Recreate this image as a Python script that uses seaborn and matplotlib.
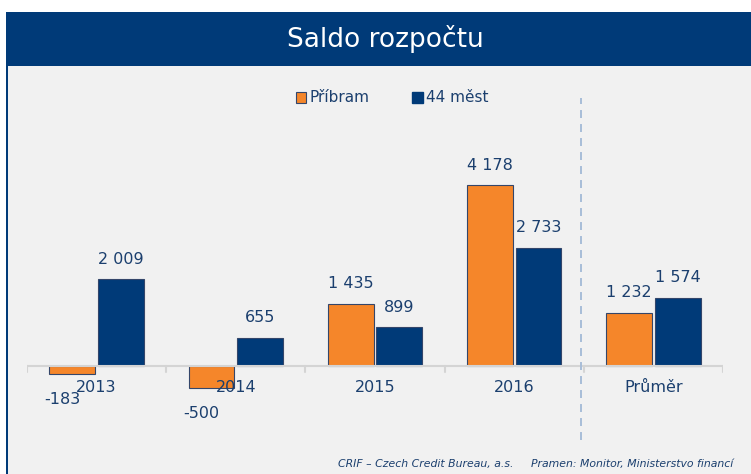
import pandas as pd
import matplotlib.pyplot as plt
import seaborn as sns
from matplotlib.patches import Rectangle, Patch

# data
categories = ["2013", "2014", "2015", "2016", "Průměr"]
pribram = [-183, -500, 1435, 4178, 1232]
mest44 = [2009, 655, 899, 2733, 1574]
series_names = ["Příbram", "44 měst"]

ORANGE = "#F5862A"
NAVY = "#003A78"
TEXT = "#1B3F6E"
BG = "#F1F1F1"

df = pd.DataFrame({
    "kategorie": categories * 2,
    "serie": [series_names[0]] * len(categories) + [series_names[1]] * len(categories),
    "hodnota": pribram + mest44,
})

sns.set_theme(style="white")
plt.rcParams["font.family"] = ["DejaVu Sans"]

fig = plt.figure(figsize=(7.51, 4.74), dpi=100)
fig.patch.set_facecolor("white")

# pozadí, levý okraj a hlavička (pod osami)
fig.patches.append(Rectangle((6 / 751, 0), 1, 462 / 474, transform=fig.transFigure,
                             facecolor=BG, edgecolor="none", zorder=-3))
fig.patches.append(Rectangle((6 / 751, 0), 2.2 / 751, 462 / 474, transform=fig.transFigure,
                             facecolor=NAVY, edgecolor="none", zorder=-2))
fig.patches.append(Rectangle((6 / 751, 408 / 474), 1, 54 / 474, transform=fig.transFigure,
                             facecolor=NAVY, edgecolor="none", zorder=-2))
fig.text(385 / 751, 435 / 474, "Saldo rozpočtu", color="white", fontsize=19,
         ha="center", va="center")

ax = fig.add_axes([27 / 751, 24 / 474, 696 / 751, 360 / 474])
ax.set_facecolor("none")

sns.barplot(data=df, x="kategorie", y="hodnota", hue="serie", order=categories,
            hue_order=series_names, palette=[ORANGE, NAVY], saturation=1,
            width=0.7, gap=0.06, edgecolor="#34466A", linewidth=0.8,
            legend=False, ax=ax)

ax.set_xlim(-0.5, len(categories) - 0.5)
ax.set_ylim(-1940, 6374)
ax.set_xlabel("")
ax.set_ylabel("")
ax.set_yticks([])
for side in ["left", "right", "top", "bottom"]:
    ax.spines[side].set_visible(False)

# osa x v nule
ax.axhline(0, color="#D4D4D4", linewidth=1.5, zorder=1)
for b in [i - 0.5 for i in range(len(categories) + 1)]:
    ax.plot([b, b], [0, -150], color="#D4D4D4", linewidth=1.5, zorder=1)
ax.tick_params(axis="x", length=0, pad=0)
ax.set_xticks(range(len(categories)))
ax.set_xticklabels([])
for i, cat in enumerate(categories):
    ax.annotate(cat, (i, 0), xytext=(0, -22), textcoords="offset pixels",
                ha="center", va="center", fontsize=11.5, color=TEXT)

# oddělení průměru
ax.plot([3.48, 3.48], [-1709, 6189], color="#A8BDD8", linewidth=1.4,
        linestyle=(0, (4.1, 3.1)), zorder=1)

# popisky hodnot
for cont in ax.containers:
    for bar in cont:
        v = bar.get_height()
        x = bar.get_x() + bar.get_width() / 2
        txt = f"{int(round(v)):,}".replace(",", " ")
        if v >= 0:
            ax.annotate(txt, (x, v), xytext=(0, 20), textcoords="offset pixels",
                        ha="center", va="center", fontsize=11.5, color=TEXT)
        else:
            ax.annotate(txt, (x, v), xytext=(-10, -26), textcoords="offset pixels",
                        ha="center", va="center", fontsize=11.5, color=TEXT)

handles = [Patch(facecolor=ORANGE, edgecolor="#34466A", linewidth=0.8),
           Patch(facecolor=NAVY, edgecolor=NAVY)]
leg = fig.legend(handles, series_names, loc="center", bbox_to_anchor=(392 / 751, 376 / 474),
                 ncol=2, frameon=False, fontsize=11, handlelength=0.7, handleheight=0.7,
                 handletextpad=0.2, columnspacing=2.8)
for t in leg.get_texts():
    t.set_color(TEXT)

fig.text(733 / 751, 10 / 474,
         "CRIF – Czech Credit Bureau, a.s.     Pramen: Monitor, Ministerstvo financí",
         ha="right", va="center", fontsize=7.8, style="italic", color=TEXT)

fig.savefig("out.png", dpi=100, facecolor=fig.get_facecolor())
